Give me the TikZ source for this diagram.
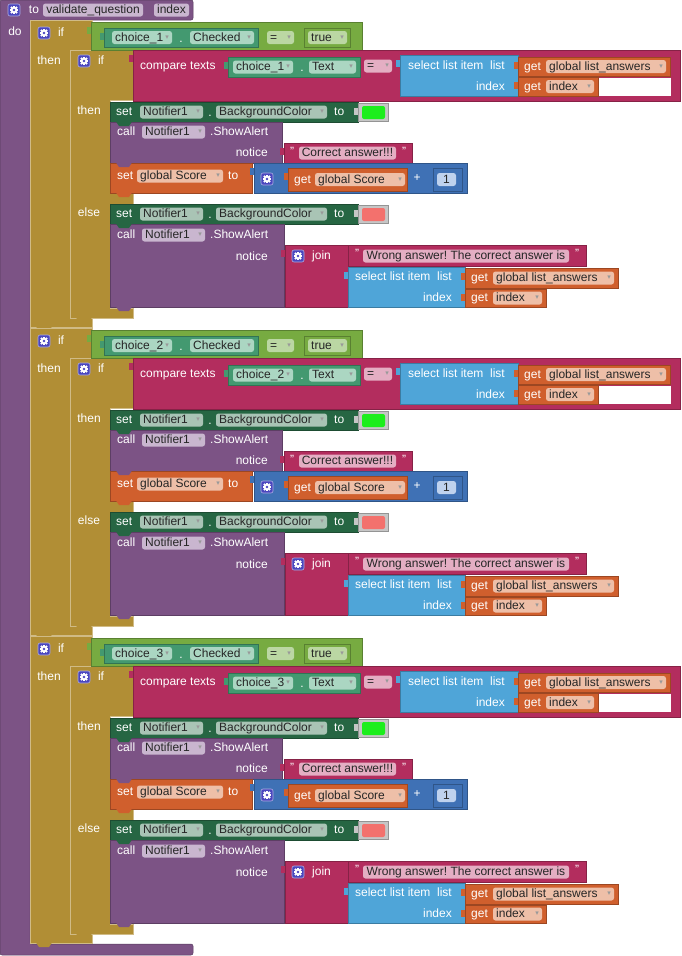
\documentclass[tikz,border=0pt]{standalone}
\usepackage{fontspec}
\setmainfont{Liberation Sans}
\newfontfamily\symfont{DejaVu Sans}
\frenchspacing

\definecolor{procpurple}{HTML}{7C5385}
\definecolor{procfield}{HTML}{C9B6CF}
\definecolor{ctrlgold}{HTML}{B18E35}
\definecolor{logicgreen}{HTML}{77AB41}
\definecolor{logicfield}{HTML}{BBD7A3}
\definecolor{getgreen}{HTML}{439970}
\definecolor{getfield}{HTML}{ABD6C2}
\definecolor{setgreen}{HTML}{266643}
\definecolor{setfield}{HTML}{A9C4B5}
\definecolor{textpink}{HTML}{B32D5E}
\definecolor{textfield}{HTML}{E4AEC3}
\definecolor{listblue}{HTML}{4FA5D8}
\definecolor{varorange}{HTML}{D05F2D}
\definecolor{varfield}{HTML}{EEBFA8}
\definecolor{mathblue}{HTML}{3F71B5}
\definecolor{mathfield}{HTML}{BFD2EE}
\definecolor{gearblue}{HTML}{4A46BE}
\definecolor{colgray}{HTML}{C6C6C6}
\definecolor{swgreen}{HTML}{1CEE1C}
\definecolor{swred}{HTML}{F3716D}

\newcommand{\blockfont}{\fontsize{12}{13}\selectfont}

\tikzset{
  lbl/.style={text=white, inner sep=0pt, font=\blockfont, text height=8pt, text depth=1pt},
  fldtext/.style={text=black!85, inner sep=0pt, font=\blockfont, text height=8pt, text depth=1pt},
  ddarrow/.style={text=black!40, inner sep=0pt, font=\symfont\fontsize{7}{7}\selectfont},
  ctrl/.style={fill=ctrlgold, draw=ctrlgold!60!white, line width=0.6pt},
}

% value block with its output tab
\newcommand{\vblock}[5]{%
  \fill[#5] (#1-4,#2+5) rectangle (#1+1,#2+12);
  \draw[#5!75!black, fill=#5, line width=0.5pt] (#1,#2) rectangle (#3,#4);}
% statement block
\newcommand{\sblock}[5]{%
  \draw[#5!75!black, fill=#5, line width=0.5pt] (#1,#2) rectangle (#3,#4);}
% next-statement bump under a block: x, y bottom, colour
\newcommand{\notch}[3]{%
  \fill[#3] (#1+6,#2-0.5) -- (#1+9,#2+4) -- (#1+19,#2+4) -- (#1+22,#2-0.5) -- cycle;}
% dropdown field: x1, x2, y centre, fill, text
\newcommand{\ddfield}[5]{%
  \fill[#4, rounded corners=2.5pt] (#1,#3-6.5) rectangle (#2,#3+6.5);
  \node[fldtext, anchor=west] at (#1+3,#3) {#5};
  \node[ddarrow, anchor=east] at (#2-3,#3) {▾};}
% plain field
\newcommand{\plfield}[5]{%
  \fill[#4, rounded corners=2.5pt] (#1,#3-6.5) rectangle (#2,#3+6.5);
  \node[fldtext] at ({(#1+#2)/2},#3) {#5};}
% mutator gear icon
\newcommand{\mutator}[2]{%
  \draw[gearblue!45!white, fill=gearblue, rounded corners=2pt, line width=0.6pt] (#1-6,#2-6) rectangle (#1+6,#2+6);
  \begin{scope}[shift={(#1,#2)}]
    \foreach \a in {0,45,...,315} \fill[white, rotate=\a] (-0.9,0) rectangle (0.9,4.3);
    \fill[white] (0,0) circle (3.1);
    \fill[gearblue] (0,0) circle (1.3);
  \end{scope}}

\begin{document}
\begin{tikzpicture}[x=1pt,y=-1pt]
\useasboundingbox (0,0) rectangle (681,956);
% procedure
\draw[fill=procpurple, draw=procpurple!70!black, line width=0.5pt, rounded corners=2pt]
  (0,0) -- (193,0) -- (193,20) -- (30,20) -- (30,944) -- (193,944) -- (193,955) -- (0,955) -- cycle;
\mutator{14}{10}
\node[lbl] (to) at (34,10) {to};
\plfield{43}{143}{10}{procfield}{validate\_question}
\plfield{154}{189}{10}{procfield}{index}
\node[lbl] (do) at (15,32) {do};

\foreach \oy [count=\k] in {0,308,616}{
\begin{scope}[shift={(0,\oy)}]
  % outer if and inner if/else
  \draw[ctrl] (30,20) -- (92,20) -- (92,50) -- (70,50) -- (70,318) -- (92,318) -- (92,327) -- (30,327) -- cycle;
  \notch{30}{327}{ctrlgold}
  \draw[ctrl] (70,50) -- (133,50) -- (133,100) -- (110,100) -- (110,193) -- (133,193) -- (133,205)
    -- (110,205) -- (110,308) -- (133,308) -- (133,318) -- (70,318) -- cycle;
  \notch{70}{318}{ctrlgold}
  \mutator{44}{33}
  \node[lbl] (if\k) at (61,33) {if};
  \node[lbl] (then\k) at (49,61) {then};
  \mutator{84}{61}
  \node[lbl] (ifin\k) at (101,61) {if};
  \node[lbl] (thenin\k) at (89,111) {then};
  \node[lbl] (else\k) at (89,213) {else};

  % choice . Checked = true
  \vblock{91}{22}{362}{50}{logicgreen}
  \vblock{104}{28}{258}{47}{getgreen}
  \ddfield{112}{172}{37.5}{getfield}{choice\_\k}
  \node[lbl] at (181,39) {.};
  \ddfield{190}{254}{37.5}{getfield}{Checked}
  \ddfield{267}{294}{37.5}{logicfield}{=}
  \vblock{304}{28}{350}{47}{logicgreen}
  \ddfield{308}{347}{37.5}{logicfield}{true}

  % compare texts
  \vblock{133}{50}{680}{101}{textpink}
  \node[lbl, anchor=west] (cmp\k) at (140,66) {compare texts};
  \vblock{228}{57}{360}{77}{getgreen}
  \ddfield{233}{293}{67}{getfield}{choice\_\k}
  \node[lbl] at (302,68) {.};
  \ddfield{309}{356}{67}{getfield}{Text}
  \ddfield{364}{392}{66}{textfield}{=}
  \vblock{400}{55}{518}{96}{listblue}
  \node[lbl, anchor=east] at (505,66) {select list item\ \ list};
  \node[lbl, anchor=east] at (505,87) {index};
  \vblock{518}{57}{670}{76}{varorange}
  \node[lbl, anchor=west] at (524,66.5) {get};
  \ddfield{546}{666}{66.5}{varfield}{global list\_answers}
  \vblock{518}{77}{598}{96}{varorange}
  \node[lbl, anchor=west] at (524,86.5) {get};
  \ddfield{546}{594}{86.5}{varfield}{index}
  \fill[white] (598.5,77.5) rectangle (671,96);

  % then
  \sblock{110}{102}{358}{122}{setgreen}
  \node[lbl, anchor=west] at (116,112) {set};
  \ddfield{140}{203}{112}{setfield}{Notifier1}
  \node[lbl] at (210,113) {.};
  \ddfield{216}{327}{112}{setfield}{BackgroundColor}
  \node[lbl, anchor=west] at (334,112) {to};
  \vblock{358}{103}{388}{121}{colgray}
  \fill[swgreen, rounded corners=2pt] (362,106) rectangle (385,119);
  \sblock{110}{122}{282}{163}{procpurple}
  \notch{110}{122}{setgreen}
  \node[lbl, anchor=west] at (117,132) {call};
  \ddfield{142}{205}{132}{procfield}{Notifier1}
  \node[lbl, anchor=west] at (210,132) {.ShowAlert};
  \node[lbl, anchor=east] at (268,153) {notice};
  \vblock{284}{143}{412}{163}{textpink}
  \node[lbl] at (292,152) {"};
  \plfield{299}{396}{153}{textfield}{Correct answer!!!}
  \node[lbl] at (404,152) {"};
  \sblock{110}{163}{252}{193}{varorange}
  \notch{110}{163}{procpurple}
  \notch{110}{193}{varorange}
  \node[lbl, anchor=west] at (117,176) {set};
  \ddfield{137}{223}{176}{varfield}{global Score}
  \node[lbl, anchor=west] at (228,176) {to};
  \vblock{254}{163}{467}{193}{mathblue}
  \mutator{267}{179}
  \vblock{288}{168}{407}{191}{varorange}
  \node[lbl, anchor=west] at (294,179.5) {get};
  \ddfield{315}{405}{179.5}{varfield}{global Score}
  \node[lbl] at (417,178) {+};
  \vblock{433}{168}{462}{191}{mathblue}
  \plfield{437}{456}{179.5}{mathfield}{1}

  % else
  \sblock{110}{204}{358}{224}{setgreen}
  \node[lbl, anchor=west] at (116,214) {set};
  \ddfield{140}{203}{214}{setfield}{Notifier1}
  \node[lbl] at (210,215) {.};
  \ddfield{216}{327}{214}{setfield}{BackgroundColor}
  \node[lbl, anchor=west] at (334,214) {to};
  \vblock{358}{205}{388}{223}{colgray}
  \fill[swred, rounded corners=2pt] (362,208) rectangle (385,221);
  \sblock{110}{224}{284}{307}{procpurple}
  \notch{110}{224}{setgreen}
  \notch{110}{307}{procpurple}
  \node[lbl, anchor=west] at (117,235) {call};
  \ddfield{142}{205}{235}{procfield}{Notifier1}
  \node[lbl, anchor=west] at (210,235) {.ShowAlert};
  \node[lbl, anchor=east] at (268,257) {notice};
  \vblock{285}{245}{350}{307}{textpink}
  \mutator{298}{256}
  \node[lbl, anchor=west] (join\k) at (312,256) {join};
  \vblock{348}{245}{586}{266}{textpink}
  \node[lbl] at (357,254) {"};
  \plfield{363}{569}{256}{textfield}{Wrong answer! The correct answer is}
  \node[lbl] at (577,254) {"};
  \vblock{348}{267}{465}{307}{listblue}
  \node[lbl, anchor=east] at (452,277) {select list item\ \ list};
  \node[lbl, anchor=east] at (452,298) {index};
  \vblock{465}{268}{618}{288}{varorange}
  \node[lbl, anchor=west] at (471,278) {get};
  \ddfield{493}{614}{278}{varfield}{global list\_answers}
  \vblock{465}{289}{546}{307}{varorange}
  \node[lbl, anchor=west] at (471,298) {get};
  \ddfield{493}{542}{298}{varfield}{index}
\end{scope}
}
\end{tikzpicture}
\end{document}
